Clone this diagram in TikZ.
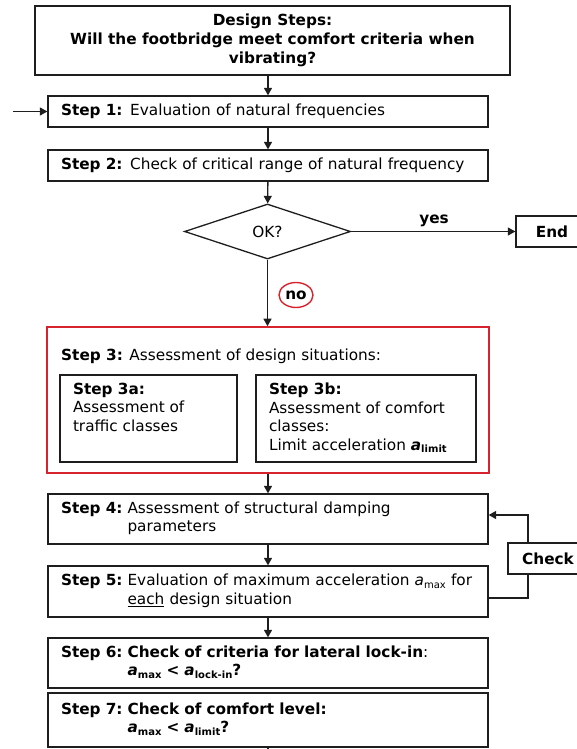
\documentclass[tikz,border=0pt]{standalone}
\usepackage{fontspec}
\setmainfont{DejaVu Sans}
\usetikzlibrary{arrows.meta,shapes.geometric}
\definecolor{redc}{RGB}{215,35,45}
\definecolor{linec}{RGB}{30,30,30}
\newcommand\mysub[1]{\raisebox{-0.3ex}{\fontsize{10}{12}\selectfont #1}}
\begin{document}
\begin{tikzpicture}[x=1pt,y=-1pt,
  every node/.style={font=\fontsize{15.3}{18.5}\selectfont, text=black},
  box/.style={draw=linec, line width=1.3pt, inner sep=0pt},
  stepbox/.style={box, text width=414pt, inner xsep=13pt, align=left, minimum height=#1},
  stepbox/.default=31pt,
  arr/.style={draw=linec, line width=1.3pt, -{Triangle[length=7.5pt,width=8pt]}},
  conn/.style={draw=linec, line width=1.3pt}
]
\useasboundingbox (0,0) rectangle (577,749);
\clip (0,0) rectangle (577,749);

\node[box, line width=1.8pt, minimum width=475pt, minimum height=69pt, align=center,
      font=\bfseries\fontsize{15.3}{19}\selectfont] (title) at (272.5,40.5)
  {Design Steps:\\Will the footbridge meet comfort criteria when\\vibrating?};

\node[stepbox] (s1) at (268,111.5) {\textbf{Step 1:} Evaluation of natural frequencies};
\node[stepbox] (s2) at (268,165.5) {\textbf{Step 2:} Check of critical range of natural frequency};

\node[draw=linec, diamond, line width=1.3pt, minimum width=166pt, minimum height=55pt, inner sep=0pt] (ok) at (267.5,231.5) {OK?};

\node[box, minimum width=72pt, minimum height=31pt, font=\bfseries\fontsize{15.3}{18}\selectfont] (end) at (552,231.5) {End};
\node[font=\bfseries\fontsize{15.3}{18}\selectfont] (yes) at (434,221) {yes};

\node[draw=redc, ellipse, line width=1.4pt, minimum width=34pt, minimum height=25pt, inner sep=0pt,
      font=\bfseries\fontsize{15.3}{18}\selectfont] (no) at (296,295) {no};

\node[draw=redc, line width=1.6pt, minimum width=442pt, minimum height=146pt, inner sep=0pt] (s3) at (268,400) {};
\node[anchor=west, inner sep=0pt] (s3t) at (61,356) {\textbf{Step 3:} Assessment of design situations:};

\node[box, minimum width=177pt, minimum height=87pt] (s3a) at (148.5,418.5)
  {\parbox[c][71pt][t]{151pt}{\raggedright\textbf{Step 3a:}\\Assessment of\\traffic classes}};
\node[box, minimum width=220pt, minimum height=87pt] (s3b) at (366,418.5)
  {\parbox[c][71pt][t]{194pt}{\raggedright\textbf{Step 3b:}\\Assessment of comfort\\classes:\\Limit acceleration \textbf{\textit{a}}\mysub{\textbf{limit}}}};

\node[stepbox=50pt] (s4) at (268,519)
  {\begin{tabular}{@{}l@{\hspace{5pt}}l@{}}\textbf{Step 4:} & Assessment of structural damping\\ & parameters\end{tabular}};
\node[stepbox=51pt] (s5) at (268,591.5)
  {\begin{tabular}{@{}l@{\hspace{5pt}}l@{}}\textbf{Step 5:} & Evaluation of maximum acceleration \textit{a}\mysub{max} for\\ & \underline{each} design situation\end{tabular}};
\node[stepbox=50pt] (s6) at (268,663)
  {\begin{tabular}{@{}l@{\hspace{5pt}}l@{}}\textbf{Step 6:} & \textbf{Check of criteria for lateral lock-in}:\\ & \textbf{\textit{a}\mysub{max} < \textit{a}\mysub{lock-in}?}\end{tabular}};
\node[stepbox=54pt] (s7) at (268,720)
  {\begin{tabular}{@{}l@{\hspace{5pt}}l@{}}\textbf{Step 7:} & \textbf{Check of comfort level:}\\ & \textbf{\textit{a}\mysub{max} < \textit{a}\mysub{limit}?}\end{tabular}};

\node[box, minimum width=80pt, minimum height=31pt, font=\bfseries\fontsize{15.3}{18}\selectfont] (ck) at (548,558.5) {Check};

% connectors
\coordinate (in) at (13,111.5);
\coordinate (fb) at (528,558.5);
\coordinate (ya) at (0,598);
\coordinate (yb) at (0,515);
\coordinate (bot) at (268,765);

\draw[arr] (s1.north |- title.south) -- (s1.north);
\draw[arr] (in) -- (s1.west);
\draw[arr] (s1) -- (s2);
\draw[arr] (s2) -- (ok);
\draw[arr] (ok.east) -- (end.west);
\draw[arr] (ok.south) -- (ok.south |- s3.north);
\draw[arr] (s3) -- (s4);
\draw[arr] (s4) -- (s5);
\draw[arr] (s5) -- (s6);
\draw[conn] (s7.south) -- (bot);
\draw[conn] (s5.east |- ya) -- (fb |- ya) -- (fb |- ck.south);
\draw[arr] (fb |- ck.north) -- (fb |- yb) -- (s4.east |- yb);
\end{tikzpicture}
\end{document}
